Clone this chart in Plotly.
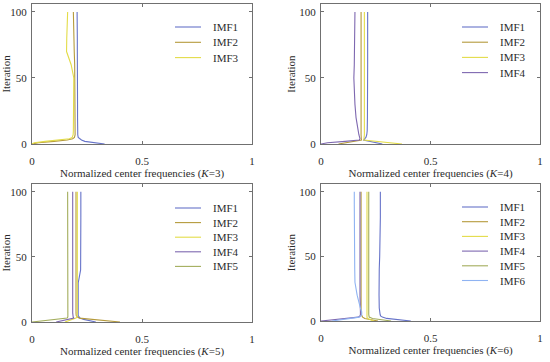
import plotly.graph_objects as go

# ---------------- data ----------------
ITER = [0, 1, 2, 3, 4, 5, 7, 10, 20, 30, 40, 50, 60, 70, 80, 90, 100]
IMF_NAMES = ["IMF1", "IMF2", "IMF3", "IMF4", "IMF5", "IMF6"]
X_TICKS = [0, 0.5, 1]
X_TICK_TEXT = ["0", "0.5", "1"]
Y_TICKS = [0, 50, 100]

# K = 3
K3_IMF1 = [0.33, 0.27, 0.24, 0.225, 0.215, 0.21, 0.208, 0.207, 0.207, 0.207, 0.206, 0.206, 0.206, 0.206, 0.206, 0.205, 0.205]
K3_IMF2 = [0.0, 0.03, 0.10, 0.16, 0.185, 0.193, 0.196, 0.196, 0.196, 0.196, 0.196, 0.195, 0.194, 0.192, 0.190, 0.189, 0.188]
K3_IMF3 = [0.0, 0.01, 0.06, 0.13, 0.17, 0.183, 0.187, 0.188, 0.189, 0.19, 0.19, 0.19, 0.178, 0.157, 0.158, 0.160, 0.162]

# K = 4
K4_IMF1 = [0.28, 0.25, 0.22, 0.195, 0.20, 0.205, 0.209, 0.211, 0.212, 0.213, 0.213, 0.213, 0.213, 0.213, 0.213, 0.213, 0.213]
K4_IMF2 = [0.08, 0.11, 0.15, 0.185, 0.184, 0.183, 0.183, 0.183, 0.183, 0.183, 0.183, 0.183, 0.183, 0.183, 0.183, 0.183, 0.183]
K4_IMF3 = [0.37, 0.30, 0.24, 0.195, 0.196, 0.197, 0.198, 0.198, 0.198, 0.198, 0.198, 0.198, 0.198, 0.198, 0.198, 0.198, 0.198]
K4_IMF4 = [0.0, 0.03, 0.11, 0.175, 0.178, 0.176, 0.173, 0.17, 0.16, 0.155, 0.152, 0.15, 0.152, 0.153, 0.154, 0.155, 0.155]

# K = 5
K5_IMF1 = [0.29, 0.26, 0.235, 0.218, 0.212, 0.21, 0.21, 0.21, 0.21, 0.21, 0.221, 0.222, 0.222, 0.222, 0.222, 0.222, 0.222]
K5_IMF2 = [0.40, 0.33, 0.26, 0.215, 0.205, 0.201, 0.20, 0.20, 0.20, 0.20, 0.20, 0.20, 0.20, 0.20, 0.20, 0.20, 0.20]
K5_IMF3 = [0.15, 0.17, 0.19, 0.20, 0.204, 0.205, 0.206, 0.206, 0.206, 0.206, 0.206, 0.206, 0.206, 0.206, 0.206, 0.206, 0.206]
K5_IMF4 = [0.11, 0.14, 0.17, 0.19, 0.187, 0.186, 0.185, 0.185, 0.185, 0.185, 0.185, 0.185, 0.185, 0.185, 0.185, 0.185, 0.185]
K5_IMF5 = [0.0, 0.05, 0.12, 0.16, 0.163, 0.163, 0.162, 0.162, 0.162, 0.162, 0.162, 0.162, 0.162, 0.162, 0.162, 0.162, 0.162]

# K = 6
K6_IMF1 = [0.41, 0.35, 0.30, 0.28, 0.272, 0.27, 0.268, 0.266, 0.265, 0.264, 0.266, 0.268, 0.27, 0.271, 0.271, 0.271, 0.271]
K6_IMF2 = [0.26, 0.23, 0.20, 0.19, 0.186, 0.184, 0.183, 0.183, 0.183, 0.183, 0.183, 0.183, 0.183, 0.183, 0.183, 0.183, 0.183]
K6_IMF3 = [0.24, 0.22, 0.212, 0.21, 0.21, 0.21, 0.21, 0.21, 0.21, 0.21, 0.21, 0.21, 0.21, 0.21, 0.21, 0.21, 0.21]
K6_IMF4 = [0.0, 0.06, 0.13, 0.17, 0.178, 0.18, 0.18, 0.179, 0.178, 0.178, 0.178, 0.178, 0.178, 0.178, 0.178, 0.178, 0.178]
K6_IMF5 = [0.32, 0.27, 0.235, 0.22, 0.218, 0.218, 0.218, 0.218, 0.218, 0.218, 0.218, 0.218, 0.218, 0.218, 0.218, 0.218, 0.218]
K6_IMF6 = [0.05, 0.10, 0.15, 0.175, 0.183, 0.186, 0.186, 0.18, 0.165, 0.155, 0.154, 0.153, 0.153, 0.152, 0.152, 0.152, 0.152]

PANELS = [
    (3, [K3_IMF1, K3_IMF2, K3_IMF3]),
    (4, [K4_IMF1, K4_IMF2, K4_IMF3, K4_IMF4]),
    (5, [K5_IMF1, K5_IMF2, K5_IMF3, K5_IMF4, K5_IMF5]),
    (6, [K6_IMF1, K6_IMF2, K6_IMF3, K6_IMF4, K6_IMF5, K6_IMF6]),
]

# ---------------- style ----------------
COLORS = ["#6673c9", "#b59a3c", "#e3dc48", "#7e68b0", "#a3ad5c", "#8fb3f2"]
FONT = "Liberation Serif"
TXT = "#2b2b2b"
AXIS_COLOR = "#707070"
W, H = 550, 362
FS = 11

# pixel boxes (left, right, top, bottom)
BOXES = [(32, 252, 4, 144), (321, 540, 4, 144), (32, 252, 184, 322), (321, 540, 184, 321)]
# legend: line start x, first row y, row spacing
LEG_POS = [(175, 27, 15.3), (462, 27, 15.2), (175, 208, 14.6), (462, 207, 14.7)]
LEG_LINE = 26
LEG_GAP = 10

fig = go.Figure()
layout = dict(
    width=W, height=H, margin=dict(l=0, r=0, t=0, b=0),
    paper_bgcolor="white", plot_bgcolor="white",
    font=dict(family=FONT, size=FS, color=TXT),
    showlegend=False,
)
shapes, annotations = [], []

for i, (k, series) in enumerate(PANELS):
    idx = "" if i == 0 else str(i + 1)
    for j, vals in enumerate(series):
        fig.add_trace(go.Scatter(
            x=vals, y=ITER, mode="lines", name=IMF_NAMES[j],
            line=dict(color=COLORS[j], width=1.1),
            xaxis="x" + idx, yaxis="y" + idx,
        ))
    l, r, t, b = BOXES[i]
    layout["xaxis" + idx] = dict(
        domain=[l / W, r / W], anchor="y" + idx, range=[0, 1], automargin=False,
        tickvals=X_TICKS, ticktext=X_TICK_TEXT,
        ticks="inside", ticklen=3, tickcolor=AXIS_COLOR, ticklabelstandoff=7,
        showline=True, linecolor=AXIS_COLOR, linewidth=1, mirror="ticks",
        showgrid=False, zeroline=False,
        tickfont=dict(size=FS, family=FONT, color=TXT),
        title=dict(text=f"Normalized center frequencies (<i>K</i>={k})",
                   font=dict(size=FS, family=FONT, color=TXT), standoff=3),
    )
    layout["yaxis" + idx] = dict(
        domain=[1 - b / H, 1 - t / H], anchor="x" + idx, range=[0, 106], automargin=False,
        tickvals=Y_TICKS, ticks="inside", ticklen=3, tickcolor=AXIS_COLOR, ticklabelstandoff=2,
        showline=True, linecolor=AXIS_COLOR, linewidth=1, mirror="ticks",
        showgrid=False, zeroline=False,
        tickfont=dict(size=FS, family=FONT, color=TXT),
        title=dict(text="Iteration", font=dict(size=FS, family=FONT, color=TXT), standoff=1),
    )
    # legend drawn as line samples + labels
    lx, ly, dy = LEG_POS[i]
    for j in range(len(series)):
        yy = 1 - (ly + j * dy) / H
        shapes.append(dict(type="line", xref="paper", yref="paper",
                           x0=lx / W, x1=(lx + LEG_LINE) / W, y0=yy, y1=yy,
                           line=dict(color=COLORS[j], width=1.1)))
        annotations.append(dict(xref="paper", yref="paper", x=(lx + LEG_LINE + LEG_GAP) / W, y=yy,
                                xanchor="left", yanchor="middle", showarrow=False,
                                text=IMF_NAMES[j], font=dict(size=FS, family=FONT, color=TXT)))

layout["shapes"] = shapes
layout["annotations"] = annotations
fig.update_layout(**layout)
fig.write_html("out.html",
               config={"displayModeBar": False, "staticPlot": True},
               post_script="document.body.style.margin='0';document.body.style.overflow='hidden';")
